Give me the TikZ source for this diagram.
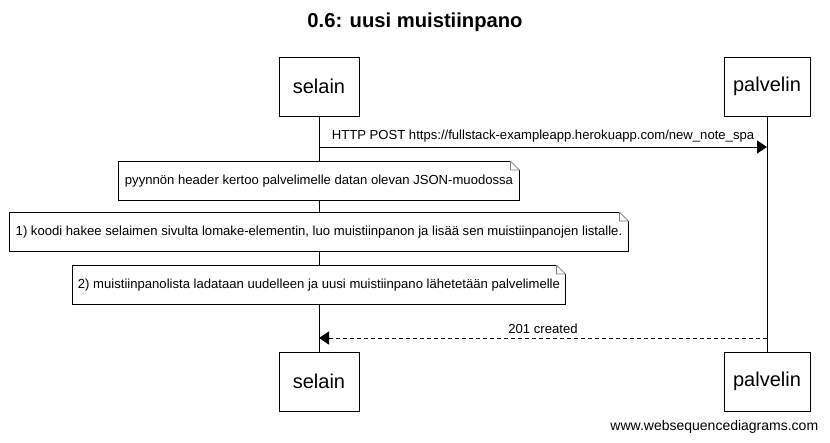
\documentclass[tikz,border=0pt]{standalone}
\usepackage{fontspec}
\setmainfont{Liberation Sans}
\usetikzlibrary{arrows.meta}
\tikzset{
	actor/.style={draw, fill=white, minimum height=59pt, inner sep=0pt, font=\fontsize{20}{24}\selectfont},
	note/.style={fill=white, minimum height=39pt, inner sep=0pt, font=\fontsize{13.1}{15}\selectfont},
	msg/.style={-{Triangle[length=10pt,width=13pt]}, font=\fontsize{13.1}{15}\selectfont},
}
\begin{document}
\begin{tikzpicture}[x=1pt, y=-1pt, line width=0.9pt]
	\useasboundingbox (0,0) rectangle (830,443);
	\node (title) at (415,22) {\fontsize{20.2}{24}\selectfont\bfseries 0.6: uusi muistiinpano};
	% osapuolet
	\node[actor, minimum width=80pt] (sel1) at (319,86.5) {selain};
	\node[actor, minimum width=86pt] (pal1) at (767,86.5) {palvelin};
	\node[actor, minimum width=80pt] (sel2) at (319,381.5) {selain};
	\node[actor, minimum width=86pt] (pal2) at (767,381.5) {palvelin};
	\draw (sel1) -- (sel2);
	\draw (pal1) -- (pal2);
	% viestit
	\coordinate (post) at (0,147);
	\coordinate (resp) at (0,338);
	\draw[msg] (sel1 |- post) -- (pal1 |- post) node[midway, above=1pt]{HTTP POST https://fullstack-exampleapp.herokuapp.com/new\_note\_spa};
	\draw[msg, dash pattern=on 4pt off 3pt] (pal1 |- resp) -- (sel1 |- resp) node[midway, above=1pt]{201 created};
	% muistiinpanot
	\node[note, minimum width=400pt] (n1) at (319,181) {pyynnön header kertoo palvelimelle datan olevan JSON-muodossa};
	\node[note, minimum width=618pt] (n2) at (319,232) {1) koodi hakee selaimen sivulta lomake-elementin, luo muistiinpanon ja lisää sen muistiinpanojen listalle.};
	\node[note, minimum width=492pt] (n3) at (319,285) {2) muistiinpanolista ladataan uudelleen ja uusi muistiinpano lähetetään palvelimelle};
	\foreach \n in {n1,n2,n3}
	{
		\draw ([yshift=-9pt]\n.north east) -- (\n.south east) -- (\n.south west) -- (\n.north west) -- ([xshift=-9pt]\n.north east);
		\draw[gray, line width=0.7pt] ([xshift=-9pt]\n.north east) -- ([yshift=-9pt]\n.north east) -| ([xshift=-9pt]\n.north east);
	}
	\node[anchor=east, font=\fontsize{14}{16}\selectfont] (wsd) at (822,427) {www.websequencediagrams.com};
\end{tikzpicture}
\end{document}
